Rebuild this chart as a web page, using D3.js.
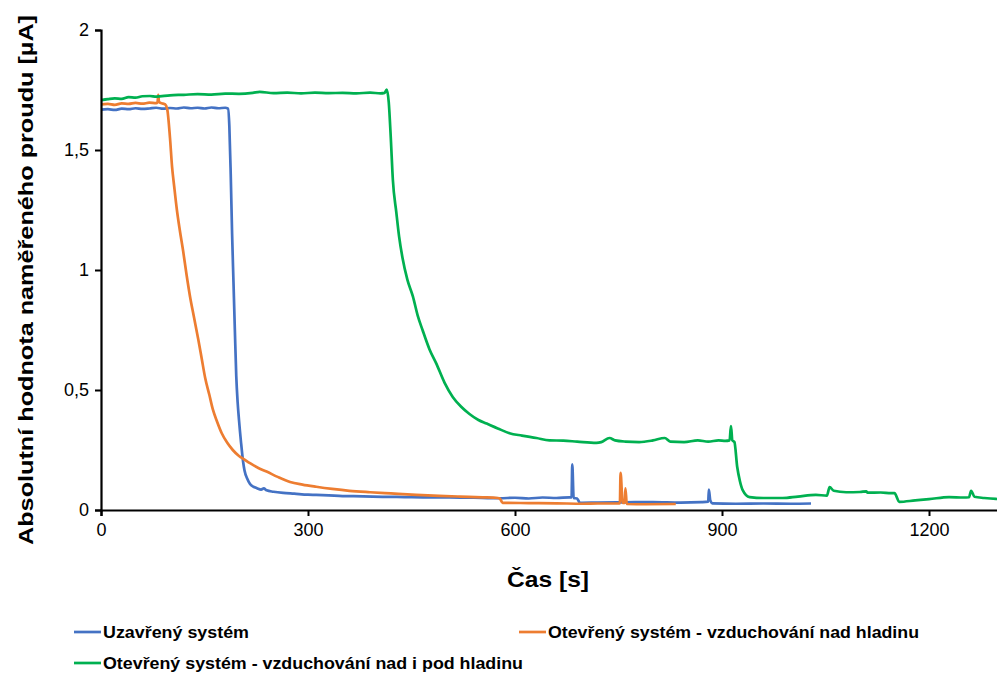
<!DOCTYPE html>
<html><head><meta charset="utf-8">
<script src="https://cdn.jsdelivr.net/npm/d3@7"></script>
<style>
html,body{margin:0;padding:0;background:#fff;}
svg{display:block;}
text{font-family:"Liberation Sans Narrow","Arial Narrow",sans-serif;fill:#000;}
</style></head>
<body>
<svg id="chart" width="997" height="673"></svg>
<script>
const seriesNames = ["Uzavřený systém", "Otevřený systém - vzduchování nad hladinu", "Otevřený systém - vzduchování nad i pod hladinu"];
const seriesColors = ["#4472C4", "#ED7D31", "#00B050"];
const xTicks = [0, 300, 600, 900, 1200];
const yTicks = [0, 0.5, 1, 1.5, 2];
const yTickLabels = ["0", "0,5", "1", "1,5", "2"];
const xTitle = "Čas [s]";
const yTitle = "Absolutní hodnota naměřeného proudu [µA]";

const closedData = [[0,1.668],[10,1.670],[20,1.667],[30,1.672],[40,1.670],[50,1.674],[60,1.671],[70,1.673],[80,1.676],[90,1.672],[100,1.675],[110,1.673],[120,1.677],[130,1.674],[140,1.676],[150,1.673],[160,1.677],[170,1.674],[180,1.676],[184,1.672],[186,1.60],[188,1.40],[190,1.15],[192,0.95],[194,0.75],[196,0.56],[198,0.45],[200,0.375],[203,0.28],[206,0.20],[208,0.165],[212,0.13],[216,0.108],[221,0.097],[226,0.091],[232,0.085],[236,0.09],[240,0.082],[250,0.076],[264,0.071],[280,0.068],[300,0.064],[312,0.063],[330,0.061],[350,0.058],[380,0.057],[408,0.055],[440,0.054],[470,0.053],[505,0.053],[540,0.051],[578,0.049],[600,0.051],[620,0.048],[640,0.052],[660,0.050],[679,0.053],[682,0.053],[683,0.19],[685,0.05],[690,0.048],[694,0.03],[720,0.031],[760,0.032],[800,0.033],[840,0.031],[870,0.033],[880,0.035],[881,0.085],[883,0.04],[886,0.028],[920,0.026],[960,0.027],[1000,0.026],[1029,0.027]];

const openAboveData = [[0,1.69],[10,1.692],[20,1.688],[30,1.694],[40,1.692],[50,1.696],[60,1.693],[70,1.697],[80,1.695],[82,1.70],[83,1.73],[84,1.70],[88,1.695],[93,1.69],[96,1.67],[100,1.55],[103,1.43],[106,1.35],[110,1.25],[114,1.17],[119,1.08],[124,0.98],[129,0.89],[135,0.80],[141,0.71],[146,0.63],[151,0.55],[157,0.48],[162,0.42],[168,0.37],[175,0.32],[183,0.28],[191,0.25],[200,0.225],[208,0.21],[216,0.195],[228,0.175],[240,0.16],[256,0.138],[274,0.117],[292,0.106],[312,0.097],[335,0.088],[360,0.080],[390,0.074],[420,0.069],[457,0.063],[490,0.059],[520,0.056],[553,0.053],[575,0.050],[578,0.048],[582,0.030],[620,0.029],[660,0.028],[698,0.026],[720,0.027],[750,0.027],[752,0.028],[753,0.155],[756,0.03],[759,0.03],[760,0.09],[762,0.025],[790,0.024],[833,0.025]];

const openBothData = [[0,1.708],[10,1.712],[20,1.715],[30,1.713],[40,1.720],[50,1.718],[60,1.724],[71,1.725],[80,1.722],[100,1.728],[120,1.730],[140,1.733],[160,1.731],[180,1.735],[200,1.734],[220,1.738],[230,1.742],[250,1.737],[270,1.739],[290,1.736],[310,1.739],[330,1.737],[350,1.738],[370,1.736],[390,1.739],[405,1.736],[411,1.738],[414,1.752],[417,1.70],[420,1.55],[423,1.375],[428,1.24],[432,1.14],[437,1.05],[444,0.96],[452,0.89],[459,0.81],[466,0.75],[476,0.67],[486,0.61],[498,0.53],[510,0.47],[522,0.43],[534,0.40],[547,0.375],[559,0.36],[575,0.34],[592,0.32],[610,0.31],[631,0.30],[650,0.29],[670,0.289],[690,0.285],[718,0.28],[725,0.283],[737,0.30],[745,0.29],[760,0.285],[780,0.283],[800,0.29],[817,0.30],[825,0.285],[845,0.283],[865,0.29],[880,0.285],[895,0.29],[905,0.288],[911,0.29],[913,0.35],[915,0.29],[918,0.283],[922,0.18],[926,0.12],[930,0.083],[940,0.054],[960,0.05],[988,0.05],[1010,0.056],[1036,0.063],[1052,0.06],[1056,0.095],[1062,0.08],[1080,0.074],[1100,0.075],[1109,0.078],[1111,0.072],[1130,0.073],[1145,0.07],[1150,0.07],[1157,0.034],[1180,0.04],[1200,0.045],[1229,0.054],[1250,0.052],[1258,0.053],[1261,0.08],[1266,0.055],[1280,0.05],[1297,0.046],[1310,0.045]];

const allSeries = [closedData, openAboveData, openBothData];

const svg = d3.select("#chart");
const x = d3.scaleLinear().domain([0, 1300]).range([101, 998]);
const y = d3.scaleLinear().domain([0, 2]).range([510, 30]);

svg.append("defs").append("clipPath").attr("id","plotclip")
  .append("rect").attr("x",101).attr("y",0).attr("width",897).attr("height",520);

const line = d3.line().curve(d3.curveMonotoneX).x(d => x(d[0])).y(d => y(d[1]));
const g = svg.append("g").attr("clip-path","url(#plotclip)");
allSeries.forEach((s, i) => {
  g.append("path").datum(s)
    .attr("fill","none").attr("stroke",seriesColors[i])
    .attr("stroke-width",2.7).attr("stroke-linejoin","round")
    .attr("d", line);
});

const yAxis = d3.axisLeft(y).tickValues(yTicks).tickFormat((d,i)=>yTickLabels[i]).tickSizeOuter(0).tickSize(6).tickPadding(6);
const yg = svg.append("g").attr("transform","translate(101,0)").call(yAxis);
const xAxis = d3.axisBottom(x).tickValues(xTicks).tickFormat(d3.format("d")).tickSizeOuter(0).tickSize(6).tickPadding(7);
const xg = svg.append("g").attr("transform","translate(0,510)").call(xAxis);
[yg, xg].forEach(a => {
  a.select(".domain").attr("stroke","#000").attr("stroke-width",2.2);
  a.selectAll(".tick line").attr("stroke","#000").attr("stroke-width",2);
  a.selectAll(".tick text").style("font-family",'"Liberation Sans Narrow","Arial Narrow",sans-serif').style("font-size","18px").attr("fill","#000");
});

svg.append("text").attr("x",548).attr("y",587).attr("text-anchor","middle")
  .style("font-size","22px").style("font-weight","bold")
  .attr("textLength",82).attr("lengthAdjust","spacingAndGlyphs").text(xTitle);

svg.append("text").attr("transform","translate(33,280) rotate(-90)").attr("text-anchor","middle")
  .style("font-family",'"Liberation Sans",Arial,sans-serif')
  .style("font-size","19.5px").style("font-weight","bold")
  .attr("textLength",530).attr("lengthAdjust","spacingAndGlyphs").text(yTitle);

const legendPos = [[74,632],[519,632],[74,663]];
const legendLens = [146, 371, 420];
seriesNames.forEach((n,i) => {
  const [lx, ly] = legendPos[i];
  svg.append("line").attr("x1",lx).attr("x2",lx+27).attr("y1",ly).attr("y2",ly)
    .attr("stroke",seriesColors[i]).attr("stroke-width",2.7);
  svg.append("text").attr("x",lx+29).attr("y",ly+5.5)
    .style("font-size","16px").style("font-weight","bold")
    .attr("textLength",legendLens[i]).attr("lengthAdjust","spacingAndGlyphs").text(n);
});
</script>
</body></html>
